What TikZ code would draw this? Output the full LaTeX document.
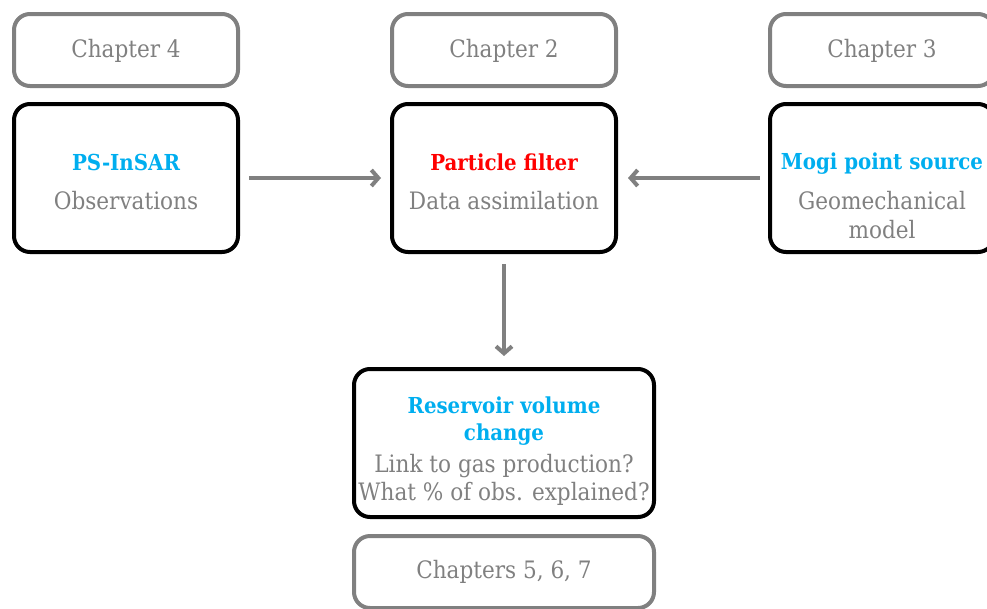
\documentclass[tikz,border=0pt]{standalone}
\usepackage{fontspec}
\setmainfont{DejaVu Serif Condensed}
\usetikzlibrary{arrows.meta}
\definecolor{txtgray}{RGB}{128,128,128}
\definecolor{myblue}{RGB}{0,174,239}
\definecolor{myred}{RGB}{255,0,0}
\begin{document}
\begin{tikzpicture}[x=1pt,y=-1pt,
 box/.style={draw=black, line width=4pt, rounded corners=16pt, minimum width=224pt, minimum height=148pt, inner sep=0pt},
 chbox/.style={draw=txtgray, line width=4pt, rounded corners=16pt, minimum width=224pt, minimum height=72pt, inner sep=0pt},
 wide/.style={minimum width=300pt},
 txt/.style={anchor=base, font=\fontsize{24}{29}\selectfont, text=txtgray, inner sep=0pt},
 ttl/.style={anchor=base, font=\fontsize{22}{27}\selectfont\bfseries, text=myblue, inner sep=0pt},
 conn/.style={draw=txtgray, line width=4pt, -{Straight Barb[length=7pt,width=16pt]}}
]
\useasboundingbox (0,0) rectangle (987,608);
% chapter boxes
\node[chbox] (ch4) at (126,50) {};
\node[chbox] (ch2) at (504,50) {};
\node[chbox] (ch3) at (882,50) {};
\node[chbox,wide] (ch567) at (504,572) {};
\node[txt] (ch4t) at (126,57) {Chapter 4};
\node[txt] (ch2t) at (504,57) {Chapter 2};
\node[txt] (ch3t) at (882,57) {Chapter 3};
\node[txt] (ch567t) at (504,578) {Chapters 5, 6, 7};
% main boxes
\node[box] (ps) at (126,178) {};
\node[box] (pf) at (504,178) {};
\node[box] (mogi) at (882,178) {};
\node[box,wide] (res) at (504,443) {};
\node[ttl] (pst) at (126,170) {PS-InSAR};
\node[txt] (pss) at (126,209) {Observations};
\node[ttl,text=myred] (pft) at (504,170) {Particle filter};
\node[txt] (pfs) at (504,209) {Data assimilation};
\node[ttl] (mogit) at (882,169) {Mogi point source};
\node[txt] (mogis1) at (882,209) {Geomechanical};
\node[txt] (mogis2) at (882,238) {model};
\node[ttl] (rest1) at (504,413) {Reservoir volume};
\node[ttl] (rest2) at (504,440) {change};
\node[txt] (ress1) at (504,472) {Link to gas production?};
\node[txt] (ress2) at (504,500) {What \% of obs. explained?};
% connectors
\draw[conn, shorten <=9pt, shorten >=9pt] (ps.east) -- (pf.west);
\draw[conn, shorten <=8pt, shorten >=10pt] (mogi.west) -- (pf.east);
\draw[conn, shorten <=10pt, shorten >=11pt] (pf.south) -- (res.north);
\end{tikzpicture}
\end{document}
